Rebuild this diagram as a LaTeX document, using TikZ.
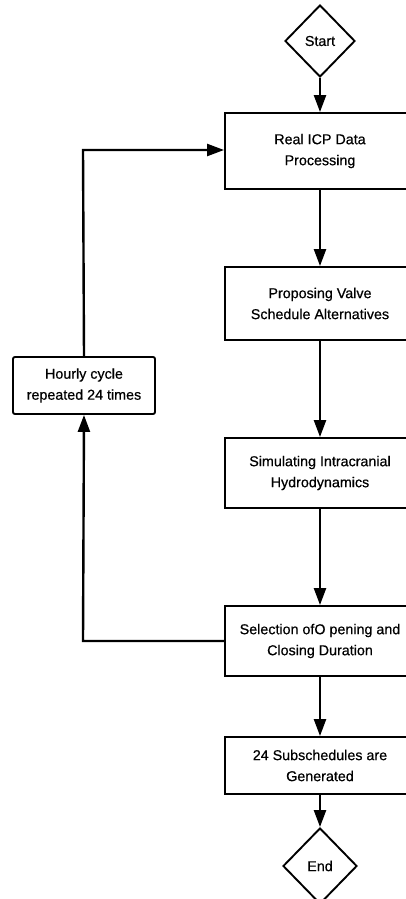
\documentclass[tikz,border=0pt]{standalone}
\usepackage{fontspec}
\setmainfont{Liberation Sans}[FakeBold=0.5]
\usetikzlibrary{shapes.geometric,arrows.meta}
\begin{document}
\begin{tikzpicture}[x=1pt,y=-1pt,
  every node/.style={font=\fontsize{14.3}{21}\selectfont, align=center},
  procbox/.style={draw, line width=1.9pt, minimum width=190pt, inner sep=0pt},
  decision/.style={draw, diamond, line width=1.9pt, inner sep=0pt},
  flow/.style={line width=2.4pt, -{Triangle[length=17pt,width=12pt]}}]
\clip (0,0) rectangle (406,899);
\fill[white] (0,0) rectangle (406,899);
\node[decision, minimum width=70pt, minimum height=72pt] (start) at (320,41) {Start};
\node[procbox, minimum height=76pt] (b1) at (320,151) {Real ICP Data\\Processing};
\node[procbox, minimum height=73pt] (b2) at (320,303.5) {Proposing Valve\\Schedule Alternatives};
\node[procbox, minimum height=70pt] (b3) at (320,473) {Simulating Intracranial\\Hydrodynamics};
\node[procbox, minimum height=70pt] (b4) at (320,641) {Selection ofO pening and\\Closing Duration};
\node[procbox, minimum height=57pt] (b5) at (320,765.5) {24 Subschedules are\\Generated};
\node[decision, minimum width=74pt, minimum height=76pt] (end) at (320,866) {End};
\node[draw, line width=1.9pt, rounded corners=2pt, minimum width=142pt, minimum height=57pt, inner sep=0pt] (hc) at (84,385.5) {Hourly cycle\\repeated 24 times};
\coordinate (lb) at (83,641);
\coordinate (lt) at (83,150);
\draw[flow] (start) -- (b1);
\draw[flow] (b1) -- (b2);
\draw[flow] (b2) -- (b3);
\draw[flow] (b3) -- (b4);
\draw[flow] (b4) -- (b5);
\draw[flow] (b5) -- (end);
\draw[flow] (b4.west) -- (lb) -- (hc.south);
\draw[flow] (hc.north) -- (lt) -- (b1.west |- lt);
\end{tikzpicture}
\end{document}
